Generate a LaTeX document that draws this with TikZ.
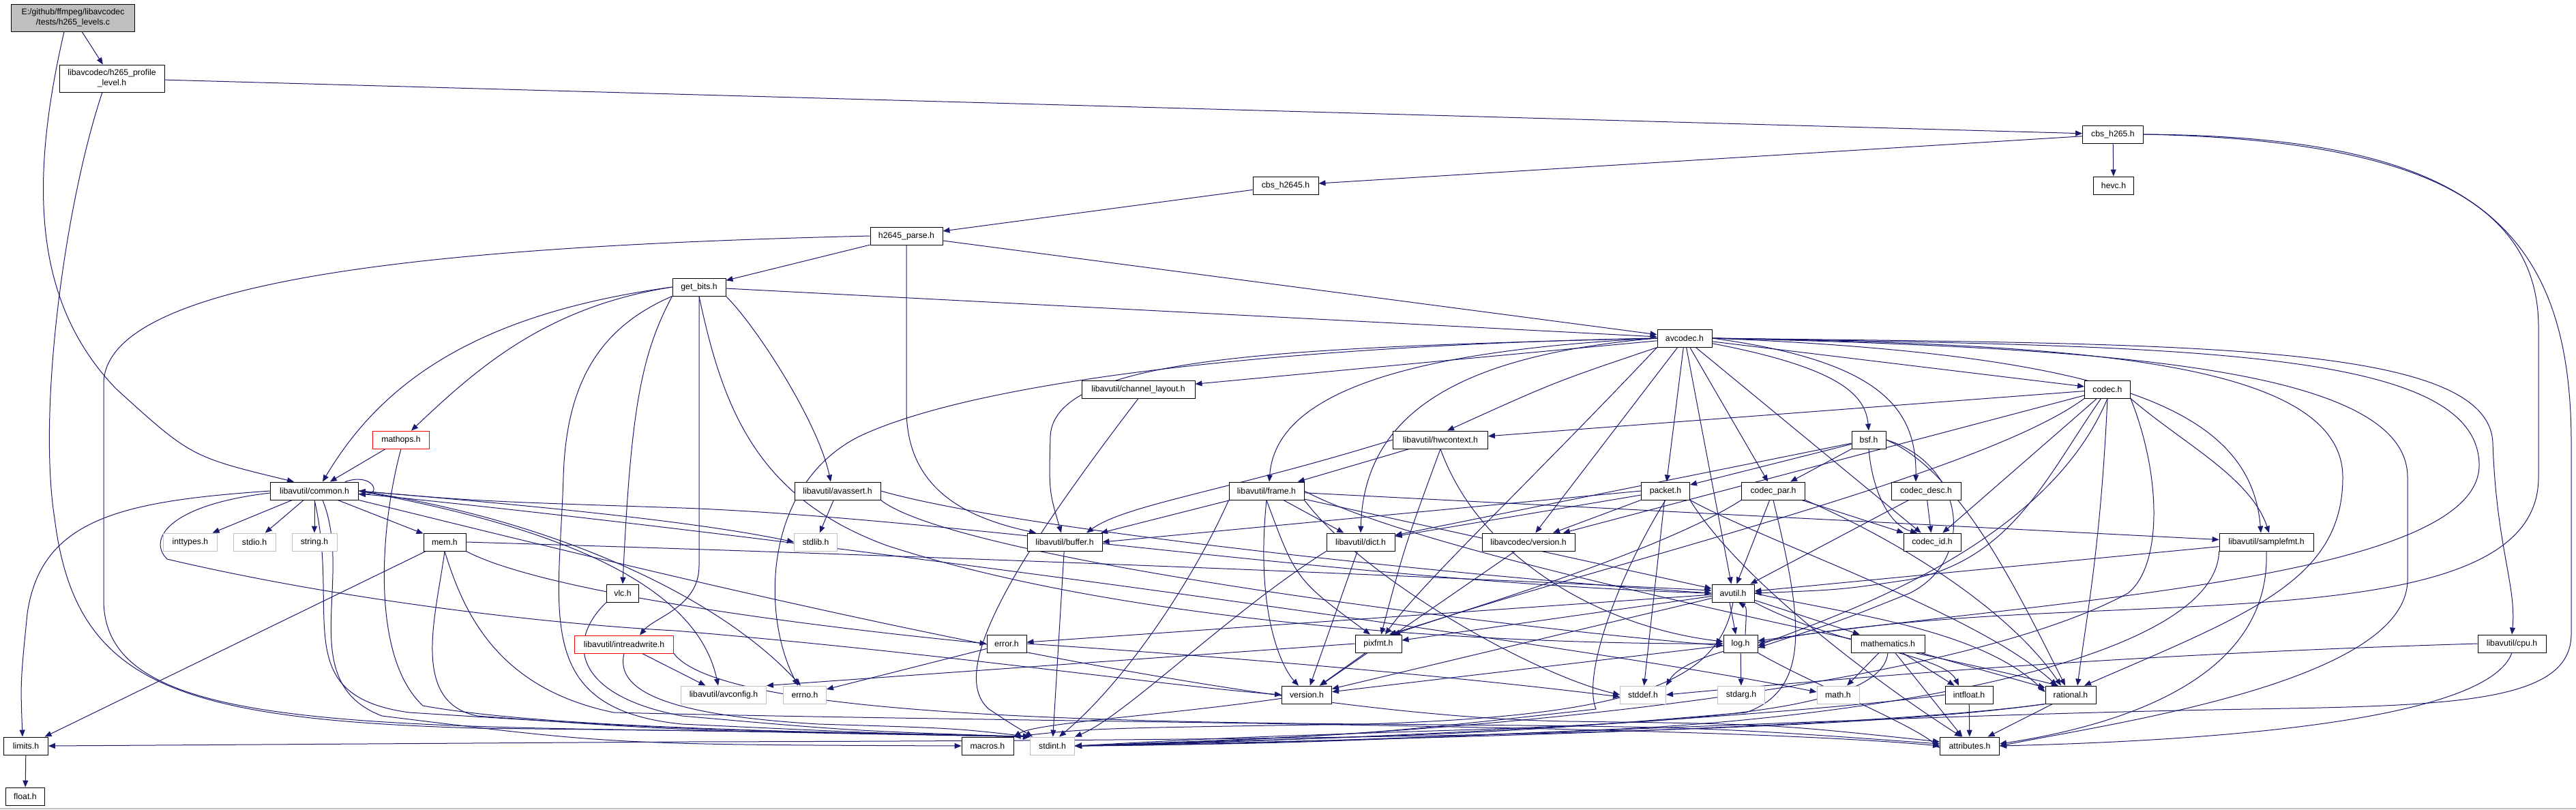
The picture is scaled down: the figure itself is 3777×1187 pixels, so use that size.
\documentclass[tikz,border=0pt]{standalone}
\usepackage{fontspec}
\setmainfont{Liberation Sans}
\usetikzlibrary{arrows.meta}
\definecolor{edgeblue}{HTML}{191970}
\definecolor{sysgray}{HTML}{BFBFBF}
\pgfdeclarelayer{edges}
\pgfsetlayers{edges,main}
\begin{document}
\begin{tikzpicture}[x=1pt, y=-1pt, >={Triangle[length=10pt,width=8pt]},
    hdr/.style={draw=black, fill=white, line width=0.9pt, inner sep=0pt,
      minimum height=26pt, font=\fontsize{12.3}{15}\selectfont},
    sys/.style={hdr, draw=sysgray},
    bad/.style={hdr, draw=red},
    dep/.style={->, draw=edgeblue, line width=1pt}]
  \useasboundingbox (0,0) rectangle (3777,1187);
  \draw[sysgray, line width=1.5pt] (0,1186) -- (3777,1186);

  \node[hdr, fill=sysgray, minimum width=181pt, minimum height=40pt, align=center] (lvc) at (107,26) {E:/github/ffmpeg/libavcodec\\/tests/h265\_levels.c};
  \node[hdr, minimum width=154pt, minimum height=40pt, align=center] (hpl) at (164,115) {libavcodec/h265\_profile\\\_level.h};
  \node[hdr, minimum width=89pt] (cbs265) at (3098,197) {cbs\_h265.h};
  \node[hdr, minimum width=96pt] (cbs2645) at (1885,272) {cbs\_h2645.h};
  \node[hdr, minimum width=59pt] (hevc) at (3099,272) {hevc.h};
  \node[hdr, minimum width=106pt] (parse) at (1329,346) {h2645\_parse.h};
  \node[hdr, minimum width=78pt] (getbits) at (1025,421) {get\_bits.h};
  \node[hdr, minimum width=80pt] (avcodec) at (2470,496) {avcodec.h};
  \node[hdr, minimum width=166pt] (chlayout) at (1669,571) {libavutil/channel\_layout.h};
  \node[hdr, minimum width=67pt] (codec) at (3090,571) {codec.h};
  \node[bad, minimum width=83pt] (mathops) at (588,645) {mathops.h};
  \node[hdr, minimum width=139pt] (hwctx) at (2112,645) {libavutil/hwcontext.h};
  \node[hdr, minimum width=50pt] (bsf) at (2740,645) {bsf.h};
  \node[hdr, minimum width=129pt] (common) at (461,720) {libavutil/common.h};
  \node[hdr, minimum width=126pt] (avassert) at (1228,720) {libavutil/avassert.h};
  \node[hdr, minimum width=110pt] (frame) at (1857,720) {libavutil/frame.h};
  \node[hdr, minimum width=71pt] (packet) at (2442,720) {packet.h};
  \node[hdr, minimum width=93pt] (codecpar) at (2600,720) {codec\_par.h};
  \node[hdr, minimum width=102pt] (codecdesc) at (2824,720) {codec\_desc.h};
  \node[sys, minimum width=79pt] (inttypes) at (279,795) {inttypes.h};
  \node[sys, minimum width=62pt] (stdio) at (373,795) {stdio.h};
  \node[sys, minimum width=66pt] (string) at (461,795) {string.h};
  \node[hdr, minimum width=62pt] (mem) at (652,795) {mem.h};
  \node[sys, minimum width=63pt] (stdlib) at (1196,795) {stdlib.h};
  \node[hdr, minimum width=110pt] (buffer) at (1561,795) {libavutil/buffer.h};
  \node[hdr, minimum width=100pt] (dict) at (1995,795) {libavutil/dict.h};
  \node[hdr, minimum width=136pt] (lavcver) at (2241,795) {libavcodec/version.h};
  \node[hdr, minimum width=84pt] (codecid) at (2833,795) {codec\_id.h};
  \node[hdr, minimum width=138pt] (samplefmt) at (3323,795) {libavutil/samplefmt.h};
  \node[hdr, minimum width=47pt] (vlc) at (913,870) {vlc.h};
  \node[hdr, minimum width=62pt] (avutil) at (2541,870) {avutil.h};
  \node[bad, minimum width=145pt] (intrw) at (915,945) {libavutil/intreadwrite.h};
  \node[hdr, minimum width=58pt] (error) at (1476,944) {error.h};
  \node[hdr, minimum width=68pt] (pixfmt) at (2021,944) {pixfmt.h};
  \node[hdr, minimum width=50pt] (log) at (2552,944) {log.h};
  \node[hdr, minimum width=108pt] (mathematics) at (2768,944) {mathematics.h};
  \node[hdr, minimum width=100pt] (cpu) at (3683,944) {libavutil/cpu.h};
  \node[sys, minimum width=125pt] (avconfig) at (1061,1019) {libavutil/avconfig.h};
  \node[sys, minimum width=63pt] (errno) at (1180,1019) {errno.h};
  \node[hdr, minimum width=73pt] (version) at (1916,1019) {version.h};
  \node[sys, minimum width=67pt] (stddef) at (2409,1019) {stddef.h};
  \node[sys, minimum width=69pt] (stdarg) at (2553,1019) {stdarg.h};
  \node[sys, minimum width=62pt] (math) at (2695,1019) {math.h};
  \node[hdr, minimum width=70pt] (intfloat) at (2887,1019) {intfloat.h};
  \node[hdr, minimum width=74pt] (rational) at (3036,1019) {rational.h};
  \node[hdr, minimum width=65pt] (limits) at (38,1094) {limits.h};
  \node[hdr, minimum width=76pt] (macros) at (1448,1094) {macros.h};
  \node[sys, minimum width=65pt] (stdint) at (1543,1094) {stdint.h};
  \node[hdr, minimum width=87pt] (attributes) at (2888,1094) {attributes.h};
  \node[hdr, minimum width=57pt] (float) at (37,1168) {float.h};

  \begin{pgfonlayer}{edges}
  % top of the graph
  \draw[dep] (lvc) -- (hpl);
  \draw[dep] ([xshift=-13pt]lvc.south) .. controls (45,260) and (45,440) .. (170,570) .. controls (280,670) .. ([xshift=-30pt]common.north);
  \draw[dep] (hpl) -- (cbs265);
  \draw[dep] ([xshift=-14pt]hpl.south) .. controls (95,300) and (55,600) .. (80,760) .. controls (110,1000) and (250,1055) .. (700,1068) .. controls (1300,1075) .. (stdint.north west);
  \draw[dep] (cbs265) -- (hevc);
  \draw[dep] (cbs265) -- (cbs2645);
  \draw[dep] (cbs265.east) .. controls (3550,205) and (3722,300) .. (3722,480) -- (3722,700) .. controls (3722,900) and (3300,880) .. (2900,905) .. controls (2600,925) and (2470,960) .. (stddef.north east);
  \draw[dep] (cbs265.east) .. controls (3620,200) and (3770,330) .. (3770,650) -- (3770,930) .. controls (3770,1030) and (3600,1035) .. (3300,1040) .. controls (2700,1050) and (2000,1092) .. (stdint.east);
  \draw[dep] (cbs2645) -- (parse);
  \draw[dep] (parse) -- (getbits);
  \draw[dep] (parse) -- (avcodec);
  \draw[dep] (parse.south) -- (1329,600) .. controls (1329,720) and (1420,760) .. ([xshift=-42pt]buffer.north);
  \draw[dep] (parse.west) .. controls (700,360) and (160,400) .. (152,560) -- (152,880) .. controls (152,1040) and (400,1062) .. (900,1070) .. controls (1300,1076) .. (stdint.north west);
  % get_bits.h
  \draw[dep] (getbits) -- (avcodec);
  \draw[dep] (getbits.west) .. controls (700,460) and (560,560) .. ([xshift=12pt]common.north);
  \draw[dep] (getbits.west) .. controls (800,450) and (700,540) .. ([xshift=15pt]mathops.north);
  \draw[dep] (getbits.south west) .. controls (880,480) and (830,560) .. (826,700) .. controls (820,900) and (780,1040) .. (1000,1062) .. controls (1300,1076) .. (stdint.north west);
  \draw[dep] (getbits.south west) .. controls (940,520) and (925,600) .. (vlc.north);
  \draw[dep] (getbits.south) -- (1025,830) .. controls (1025,890) and (960,905) .. ([xshift=23pt]intrw.north);
  \draw[dep] (getbits.south) .. controls (1060,600) and (1110,730) .. (1300,800) .. controls (1700,930) and (2300,945) .. (log.west);
  \draw[dep] (getbits.south east) .. controls (1110,480) and (1200,620) .. ([xshift=-10pt]avassert.north);
  % mathops.h, vlc.h, intreadwrite.h
  \draw[dep] (mathops) -- (common);
  \draw[dep] (mathops.south) .. controls (560,760) and (540,960) .. (620,1035) .. controls (800,1068) and (1200,1074) .. (stdint.north west);
  \draw[dep] (vlc.south west) .. controls (830,940) and (840,1020) .. (1000,1050) .. controls (1250,1072) .. (stdint.north west);
  \draw[dep] (intrw) -- (avconfig);
  \draw[dep] (intrw.south) .. controls (900,1020) and (1000,1050) .. (1200,1062) .. controls (1400,1068) .. (stdint.north west);
  \draw[dep] (intrw.south east) .. controls (1050,1040) and (1500,1058) .. (2000,1062) .. controls (2500,1066) .. ([yshift=3pt]attributes.west);
  % libavutil/common.h
  \draw[dep] ([xshift=-20pt]common.north east) .. controls +(40,-14) and +(35,0) .. ([yshift=-5pt]common.east);
  \draw[dep] (common) -- (inttypes);
  \draw[dep] (common) -- (stdio);
  \draw[dep] (common) -- (string);
  \draw[dep] (common) -- (mem);
  \draw[dep] (common.west) .. controls (180,735) and (60,760) .. (40,900) .. controls (30,1000) .. ([xshift=-5pt]limits.north);
  \draw[dep] ([yshift=-3pt]common.west) .. controls (250,740) and (215,790) .. (245,820) .. controls (500,880) and (800,915) .. (990,925) .. controls (1400,960) and (1700,1005) .. (version.west);
  \draw[dep] (common.east) .. controls (700,735) and (1000,760) .. (stdlib.west);
  \draw[dep] (common.east) .. controls (800,760) and (1050,870) .. ([xshift=-6pt]errno.north);
  \draw[dep] (common.east) .. controls (800,770) and (1020,850) .. ([xshift=-8pt]avconfig.north);
  \draw[dep] ([yshift=-4pt]common.east) .. controls (1200,790) and (2400,960) .. ([yshift=4pt]math.west);
  \draw[dep] (common.south east) .. controls (1000,850) and (1800,1050) .. (2300,1058) .. controls (2600,1062) .. ([yshift=6pt]attributes.west);
  \draw[dep] ([xshift=12pt]common.south) .. controls (520,850) and (430,1000) .. (560,1050) .. controls (900,1092) .. (macros.west);
  \draw[dep] (common.south) .. controls (500,900) and (420,1020) .. (600,1045) .. controls (1000,1070) .. (stdint.north west);
  % mem.h
  \draw[dep] (mem) -- (limits);
  \draw[dep] (mem.south east) .. controls (800,870) and (1200,920) .. (error.west);
  \draw[dep] (mem.east) .. controls (1200,810) and (2000,840) .. ([yshift=4pt]avutil.west);
  \draw[dep] (mem.south) .. controls (640,900) and (600,1030) .. (700,1050) .. controls (1000,1072) .. (stdint.north west);
  \draw[dep] (mem.south) .. controls (680,900) and (730,1010) .. (900,1045) .. controls (1500,1060) and (2500,1062) .. (attributes.west);
  % libavutil/avassert.h
  \draw[dep] (avassert) -- (stdlib);
  \draw[dep] (avassert.east) .. controls (1500,780) and (2200,850) .. (avutil.west);
  \draw[dep] (avassert.south east) .. controls (1400,820) and (2200,920) .. ([yshift=-3pt]log.west);
  % avcodec.h
  \draw[dep] (avcodec) -- (chlayout);
  \draw[dep] (avcodec) -- (codec);
  \draw[dep] (avcodec) -- (packet);
  \draw[dep] (avcodec) -- (codecpar);
  \draw[dep] (avcodec) -- (lavcver);
  \draw[dep] (avcodec) -- (avutil);
  \draw[dep] (avcodec) -- (codecid);
  \draw[dep] (avcodec.west) .. controls (1950,505) and (1450,550) .. (1260,640) .. controls (1120,710) and (1115,900) .. ([xshift=-10pt]errno.north);
  \draw[dep] (avcodec.west) .. controls (1900,510) and (1545,520) .. (1540,640) .. controls (1538,720) .. ([xshift=-5pt]buffer.north);
  \draw[dep] (avcodec.west) .. controls (2150,520) and (2000,600) .. (dict.north);
  \draw[dep] (avcodec.west) .. controls (2050,515) and (1870,580) .. ([xshift=4pt]frame.north);
  \draw[dep] (avcodec) .. controls (2280,560) .. ([xshift=10pt]hwctx.north);
  \draw[dep] (avcodec.south west) .. controls (2250,700) and (2080,860) .. ([xshift=10pt]pixfmt.north);
  \draw[dep] (avcodec) .. controls (2700,540) and (2735,580) .. (bsf.north);
  \draw[dep] (avcodec.east) .. controls (2760,530) and (2810,600) .. ([xshift=-15pt]codecdesc.north);
  \draw[dep] (avcodec.east) .. controls (3100,520) and (3300,600) .. ([xshift=-8pt]samplefmt.north);
  \draw[dep] (avcodec.east) .. controls (3000,505) and (3435,520) .. (3435,700) .. controls (3435,850) and (3300,900) .. ([xshift=20pt]rational.north);
  \draw[dep] (avcodec.east) .. controls (3100,510) and (3530,540) .. (3530,700) -- (3530,850) .. controls (3530,1000) and (3100,1060) .. (attributes.east);
  \draw[dep] (avcodec.east) .. controls (3200,505) and (3650,500) .. (3655,650) .. controls (3660,800) and (3690,860) .. (cpu.north);
  \draw[dep] (avcodec.east) .. controls (3200,508) and (3630,510) .. (3635,680) .. controls (3640,850) and (3000,880) .. ([yshift=4pt]log.east);
  % libavcodec headers
  \draw[dep] (chlayout.south) .. controls (1520,780) and (1380,980) .. (1450,1040) .. controls (1480,1060) .. ([xshift=4pt]stdint.north west);
  \draw[dep] (codec) -- (codecid);
  \draw[dep] (codec) -- (hwctx);
  \draw[dep] (codec) -- (lavcver);
  \draw[dep] (codec) .. controls (3000,700) and (2950,820) .. (2800,850) .. controls (2700,865) .. (avutil.east);
  \draw[dep] (codec.south) .. controls (3000,800) and (2700,900) .. ([yshift=-3pt]log.east);
  \draw[dep] (codec.south west) .. controls (2900,700) and (2300,840) .. ([xshift=22pt]pixfmt.north);
  \draw[dep] (codec.south) .. controls (3080,800) and (3060,900) .. ([xshift=10pt]rational.north);
  \draw[dep] (codec.south east) .. controls (3200,650) and (3300,700) .. ([xshift=4pt]samplefmt.north);
  \draw[dep] (codec.south east) .. controls (3170,700) and (3170,830) .. (3120,870) .. controls (2900,990) and (2300,1075) .. (stdint.east);
  \draw[dep] (bsf) -- (dict);
  \draw[dep] (bsf) -- (codecpar);
  \draw[dep] (bsf) -- (packet);
  \draw[dep] (bsf.south) .. controls (2745,720) and (2770,770) .. ([xshift=-22pt]codecid.north);
  \draw[dep] (bsf.east) .. controls (2870,690) and (2950,850) .. ([xshift=-8pt]rational.north);
  \draw[dep] (bsf.east) .. controls (2880,680) and (2900,820) .. (2800,870) .. controls (2700,910) .. ([yshift=-6pt]log.east);
  \draw[dep] (codecdesc) -- (codecid);
  \draw[dep] (codecdesc) -- (avutil);
  \draw[dep] (codecpar) -- (codecid);
  \draw[dep] (codecpar) -- (avutil);
  \draw[dep] (codecpar.south east) .. controls (2800,800) and (2950,900) .. ([xshift=-14pt]rational.north);
  \draw[dep] (codecpar.south west) .. controls (2450,800) and (2200,880) .. ([xshift=16pt]pixfmt.north);
  \draw[dep] (codecpar.south) .. controls (2640,900) and (2660,1010) .. (2560,1045) .. controls (2200,1075) .. (stdint.east);
  \draw[dep] (packet) -- (stddef);
  \draw[dep] (packet) -- (dict);
  \draw[dep] (packet) -- (lavcver);
  \draw[dep] (packet.west) -- (buffer.east);
  \draw[dep] (packet.south) .. controls (2370,850) and (2320,990) .. (2340,1040) .. controls (2000,1078) .. (stdint.east);
  \draw[dep] (packet.south east) .. controls (2550,850) and (2750,1000) .. ([xshift=-12pt]attributes.north);
  \draw[dep] (packet.south east) .. controls (2600,800) and (2900,900) .. ([xshift=-20pt]rational.north);
  \draw[dep] (lavcver) -- (version);
  % libavutil headers
  \draw[dep] (hwctx) -- (frame);
  \draw[dep] (hwctx.south) .. controls (2060,800) .. ([xshift=4pt]pixfmt.north);
  \draw[dep] (hwctx.west) .. controls (1800,720) and (1650,740) .. ([xshift=32pt]buffer.north);
  \draw[dep] (hwctx.south) .. controls (2170,820) and (2350,920) .. ([yshift=3pt]log.west);
  \draw[dep] (frame) -- (buffer);
  \draw[dep] (frame) -- (dict);
  \draw[dep] (frame) -- (avutil);
  \draw[dep] (frame) -- (samplefmt);
  \draw[dep] (frame.south) .. controls (1900,850) .. ([xshift=-12pt]pixfmt.north);
  \draw[dep] (frame.south) .. controls (1840,900) and (1880,980) .. ([xshift=-12pt]version.north);
  \draw[dep] (frame.south east) .. controls (2000,850) and (2250,990) .. (stddef.west);
  \draw[dep] (frame.south west) .. controls (1750,850) and (1650,1000) .. ([xshift=10pt]stdint.north);
  \draw[dep] (frame.east) .. controls (2100,820) and (2800,950) .. ([xshift=-18pt]rational.north);
  \draw[dep] (dict) -- (version);
  \draw[dep] (dict.south west) .. controls (1800,900) and (1650,1050) .. (stdint.north east);
  \draw[dep] (buffer) -- (stdint);
  \draw[dep] (samplefmt) -- (avutil);
  \draw[dep] (samplefmt.south) .. controls (3330,1000) and (3100,1065) .. ([yshift=3pt]attributes.east);
  \draw[dep] (samplefmt.south west) .. controls (3250,960) and (2800,1045) .. (2400,1068) .. controls (1900,1090) .. (stdint.east);
  \draw[dep] (avutil.west) .. controls (2000,855) and (1400,760) .. (1000,745) .. controls (700,735) .. (common.east);
  \draw[dep] (avutil) -- (mathematics);
  \draw[dep] (avutil) -- (error);
  \draw[dep] (avutil) -- (version);
  \draw[dep] (avutil) -- (pixfmt);
  \draw[dep] (avutil.east) .. controls (2700,900) and (2900,920) .. ([yshift=4pt]rational.west);
  \draw[dep] (avutil.south) .. controls (2520,1000) and (2400,1050) .. (2000,1062) .. controls (1600,1068) .. (macros.north east);
  \draw[dep] (avutil.south east) .. controls (2700,950) and (2850,960) .. ([xshift=-15pt]intfloat.north);
  \draw[dep] ([xshift=-5pt]avutil.south) -- ([xshift=-7pt]log.north);
  \draw[dep] ([xshift=7pt]log.north) .. controls +(2,-40) .. ([xshift=8pt]avutil.south);
  \draw[dep] (error) -- (errno);
  \draw[dep] (error.east) .. controls (1900,970) and (2200,1000) .. ([yshift=-3pt]stddef.west);
  \draw[dep] (log) -- (stdarg);
  \draw[dep] (log) -- (version);
  \draw[dep] (log.south east) .. controls (2650,1000) and (2800,1060) .. ([yshift=-3pt]attributes.west);
  \draw[dep] (mathematics) -- (math);
  \draw[dep] (mathematics) -- (intfloat);
  \draw[dep] (mathematics) -- (rational);
  \draw[dep] (mathematics) -- (attributes);
  \draw[dep] (mathematics.south) .. controls (2760,1040) and (2500,1060) .. (2100,1072) .. controls (1800,1082) .. (stdint.east);
  \draw[dep] (intfloat) -- (attributes);
  \draw[dep] (intfloat.west) .. controls (2700,1040) and (2200,1080) .. (stdint.east);
  \draw[dep] (rational) -- (attributes);
  \draw[dep] (rational.south west) .. controls (2800,1060) and (2300,1080) .. (stdint.east);
  \draw[dep] (rational.south west) .. controls (2700,1075) and (2000,1086) .. (1000,1088) -- (limits.east);
  \draw[dep] (pixfmt.west) -- (avconfig.north east);
  \draw[dep] (pixfmt) -- (version);
  \draw[dep] (version) .. controls (1700,1050) and (1520,1060) .. (macros.north east);
  \draw[dep] (cpu.west) .. controls (3100,960) and (2700,995) .. (stddef.east);
  \draw[dep] (cpu.south) .. controls (3650,1050) and (3300,1085) .. (attributes.east);
  \draw[dep] (limits) -- (float);
  \end{pgfonlayer}
\end{tikzpicture}
\end{document}
